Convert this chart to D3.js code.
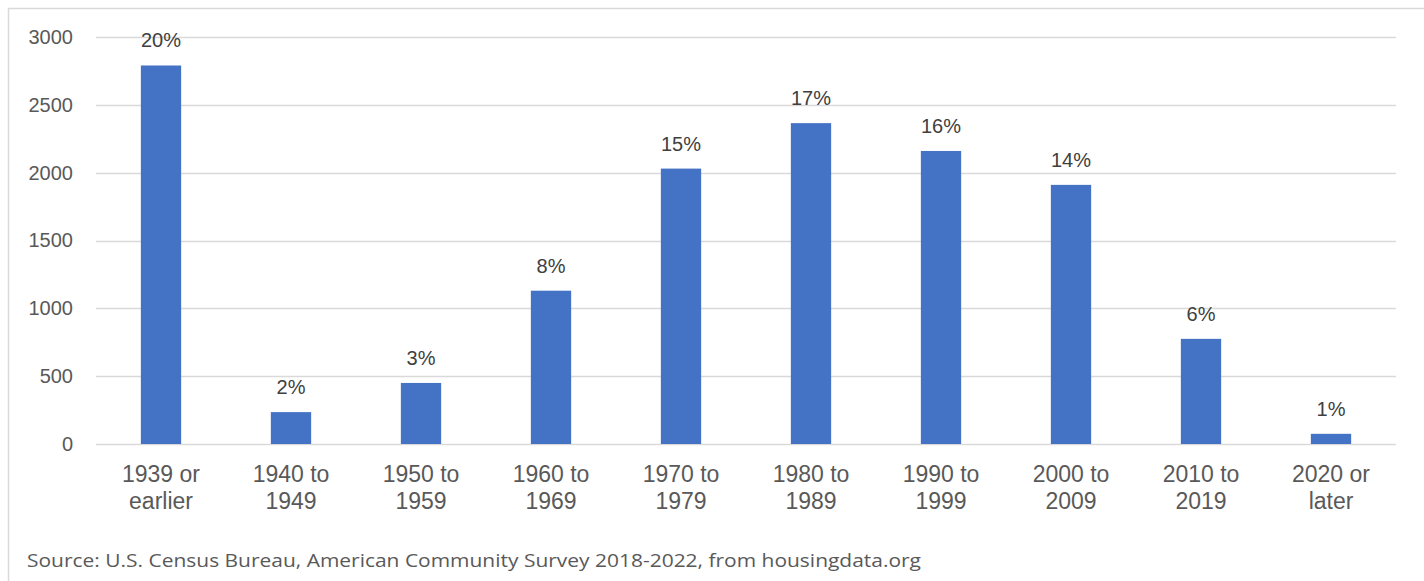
<!DOCTYPE html>
<html><head><meta charset="utf-8">
<script src="https://cdn.jsdelivr.net/npm/d3@7"></script>
<style>
html,body{margin:0;padding:0;background:#fff;}
svg{display:block;}
</style></head>
<body>
<svg id="chart" width="1424" height="581"></svg>
<script>
const categories = [["1939 or","earlier"],["1940 to","1949"],["1950 to","1959"],["1960 to","1969"],["1970 to","1979"],["1980 to","1989"],["1990 to","1999"],["2000 to","2009"],["2010 to","2019"],["2020 or","later"]];
const values = [2790, 235, 450, 1130, 2030, 2365, 2160, 1910, 775, 75];
const percentLabels = ["20%","2%","3%","8%","15%","17%","16%","14%","6%","1%"];
const yTicks = [0, 500, 1000, 1500, 2000, 2500, 3000];
const sourceText = "Source: U.S. Census Bureau, American Community Survey 2018-2022, from housingdata.org";

(function(){
const svg = d3.select("#chart");
const W = 1424, H = 581;
const mLeft = 96, mRight = 1396, mTop = 37, mBottom = 444;

// frame
svg.append("path").attr("d", `M8.5,${H} L8.5,8.5 L${W},8.5`).attr("fill","none").attr("stroke","#d9d9d9").attr("stroke-width",1.5);

const keys = categories.map(c => c.join(" "));
const x = d3.scaleBand().domain(keys).range([mLeft, mRight]).paddingInner(0.69).paddingOuter(0.345);
const y = d3.scaleLinear().domain([0, 3000]).range([mBottom, mTop]);

// grid
svg.append("g").selectAll("line").data(yTicks).join("line")
  .attr("x1", mLeft).attr("x2", mRight)
  .attr("y1", d => Math.round(y(d)) + 0.5).attr("y2", d => Math.round(y(d)) + 0.5)
  .attr("stroke", "#d9d9d9").attr("stroke-width", 1.5);

// y axis labels
const yAxis = d3.axisLeft(y).tickValues(yTicks).tickSize(0).tickPadding(0).tickFormat(d3.format("d"));
const gy = svg.append("g").attr("transform", `translate(73,0)`).call(yAxis);
gy.select(".domain").remove();
gy.selectAll("text").attr("font-family","'Liberation Sans', Arial, sans-serif").attr("font-size", 20).attr("fill","#595959");

// bars
svg.append("g").selectAll("rect").data(values).join("rect")
  .attr("x", (d,i) => x(keys[i]))
  .attr("width", x.bandwidth())
  .attr("y", d => y(d))
  .attr("height", d => y(0) - y(d))
  .attr("fill", "#4472C4");

// percent labels
svg.append("g").selectAll("text").data(values).join("text")
  .attr("x", (d,i) => x(keys[i]) + x.bandwidth()/2)
  .attr("y", d => y(d) - 18)
  .attr("text-anchor","middle")
  .attr("font-family","'Liberation Sans', Arial, sans-serif").attr("font-size", 20).attr("fill","#404040")
  .text((d,i) => percentLabels[i]);

// x labels
const xAxis = d3.axisBottom(x).tickSize(0).tickFormat("");
const gx = svg.append("g").attr("transform", `translate(0,${mBottom})`).call(xAxis);
gx.select(".domain").remove();
gx.selectAll(".tick").each(function(d, i) {
  const t = d3.select(this).append("text")
    .attr("text-anchor","middle").attr("font-family","'Liberation Sans', Arial, sans-serif")
    .attr("font-size", 23).attr("fill","#595959");
  categories[i].forEach((line, j) => {
    t.append("tspan").attr("x", 0).attr("y", 38 + j*27).text(line);
  });
});

// source
svg.append("text").attr("x", 27).attr("y", 567)
  .attr("font-family","'Open Sans', Lato, sans-serif").attr("font-size", 19).attr("fill","#595959")
  .attr("textLength", 894).attr("lengthAdjust", "spacingAndGlyphs")
  .text(sourceText);
})();
</script>
</body></html>
